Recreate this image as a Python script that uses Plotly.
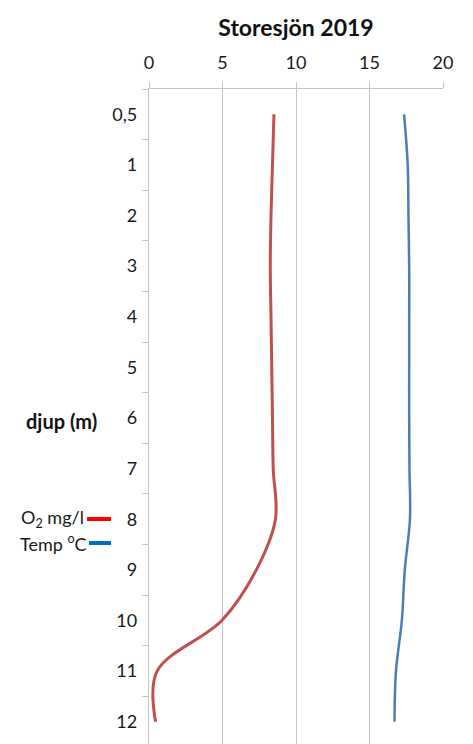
import plotly.graph_objects as go

depth_labels = ["0,5", "1", "2", "3", "4", "5", "6", "7", "8", "9", "10", "11", "12"]
o2_mg_l = [8.5, 8.4, 8.3, 8.25, 8.3, 8.35, 8.4, 8.45, 8.6, 7.3, 4.95, 0.55, 0.45]
temp_c = [17.35, 17.6, 17.65, 17.7, 17.7, 17.7, 17.7, 17.72, 17.75, 17.4, 17.2, 16.8, 16.7]
x_ticks = [0, 5, 10, 15, 20]

W, H = 473, 744
ML, MR, MT, MB = 149, 30, 89, 0
PW, PH = W - ML - MR, H - MT - MB

def px(x):
    return (x - ML) / PW

def py(y):
    return (H - MB - y) / PH

FONT = "Lato, 'Open Sans', sans-serif"
GRID = "#c4c4c4"
TXT = "#1a1a1a"

fig = go.Figure()
fig.add_trace(go.Scatter(x=o2_mg_l, y=depth_labels, mode="lines",
                         line=dict(color="#c0504d", width=3, shape="spline", smoothing=1),
                         name="O2 mg/l", showlegend=False))
fig.add_trace(go.Scatter(x=temp_c, y=depth_labels, mode="lines",
                         line=dict(color="#4a7ebb", width=2.5, shape="spline", smoothing=1),
                         name="Temp °C", showlegend=False))

fig.update_layout(
    width=W, height=H,
    margin=dict(l=ML, r=MR, t=MT, b=MB, pad=0),
    paper_bgcolor="white", plot_bgcolor="white",
    font=dict(family=FONT, size=17, color=TXT),
    title=dict(text="<b>Storesjön 2019</b>", x=px(296), xref="paper", xanchor="center",
               y=1 - 28 / H, yanchor="middle", font=dict(size=23, color="#111111")),
    xaxis=dict(side="top", range=[0, 20], tickvals=x_ticks, showgrid=True, gridcolor=GRID,
               gridwidth=1.3, zeroline=False, showline=True, linecolor=GRID, linewidth=1.3,
               ticks="outside", ticklen=6, tickcolor=GRID, tickwidth=1.3,
               ticklabelstandoff=6, tickfont=dict(size=18, color=TXT)),
    yaxis=dict(type="category", categoryorder="array", categoryarray=depth_labels,
               range=[12.44, -0.5], showgrid=False, zeroline=False, showline=True,
               linecolor=GRID, linewidth=1.3, ticks="outside", tickson="boundaries",
               ticklen=6, tickcolor=GRID, tickwidth=1.3, ticklabelstandoff=7,
               tickfont=dict(size=18, color=TXT)),
)

fig.add_annotation(text="<b>djup (m)</b>", xref="paper", yref="paper", x=px(61), y=py(421),
                   xanchor="center", yanchor="middle", showarrow=False,
                   font=dict(size=20, color="#111111"))
fig.add_annotation(text="O<sub>2</sub> mg/l", xref="paper", yref="paper", x=px(86), y=py(518),
                   xanchor="right", yanchor="middle", showarrow=False,
                   font=dict(size=18, color=TXT))
fig.add_annotation(text="Temp <sup>o</sup>C", xref="paper", yref="paper", x=px(89), y=py(543),
                   xanchor="right", yanchor="middle", showarrow=False,
                   font=dict(size=18, color=TXT))
fig.add_shape(type="line", xref="paper", yref="paper", x0=px(87), x1=px(111), y0=py(519), y1=py(519),
              line=dict(color="#ff0000", width=4))
fig.add_shape(type="line", xref="paper", yref="paper", x0=px(89), x1=px(111), y0=py(543), y1=py(543),
              line=dict(color="#0070c0", width=4))

fig.write_html("out.html")
